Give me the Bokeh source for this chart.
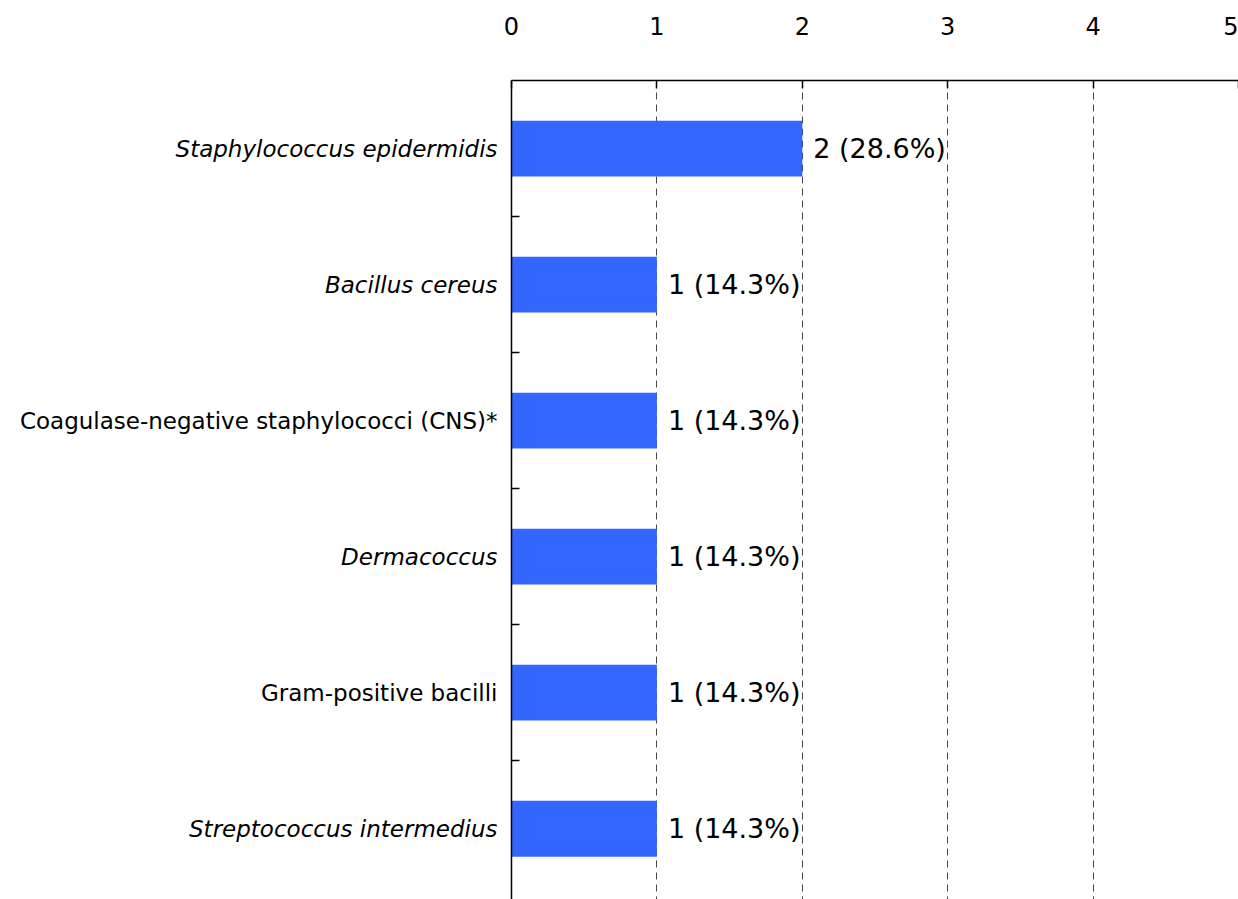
from bokeh.plotting import figure
from bokeh.layouts import row
from bokeh.models import (ColumnDataSource, LabelSet, Range1d, FixedTicker,
                          CustomJSTickFormatter)
from bokeh.core.properties import value
from bokeh.embed import file_html
from bokeh.resources import INLINE

categories = [
    "Staphylococcus epidermidis",
    "Bacillus cereus",
    "Coagulase-negative staphylococci (CNS)*",
    "Dermacoccus",
    "Gram-positive bacilli",
    "Streptococcus intermedius",
]
counts = [2, 1, 1, 1, 1, 1]
italic = [True, True, False, True, False, True]
x_ticks = [0, 1, 2, 3, 4, 5]

total = sum(counts)
pos = list(range(len(categories)))
value_text = [f"{c} ({c / total * 100:.1f}%)" for c in counts]
styles = ["italic" if it else "normal" for it in italic]

src = ColumnDataSource(dict(
    y=pos, cat=categories, count=counts, zero=[0] * len(counts),
    one=[1] * len(counts), vtext=value_text, style=styles,
))

FONT = "DejaVu Sans"
LEFT_W = 497
PAD = 14
TOP = 80
H = 899

y_range = Range1d(5.52, -0.5)

# left panel holding the category labels
lp = figure(width=LEFT_W, height=H, output_backend="svg", toolbar_location=None,
            x_range=Range1d(0, 1), y_range=y_range,
            min_border_left=0, min_border_right=0, min_border_top=TOP,
            min_border_bottom=0)
lp.outline_line_color = None
lp.axis.visible = False
lp.grid.grid_line_color = None
lp.text(x="one", y="y", text="cat", source=src,
        text_align="right", text_baseline="middle",
        text_font=value(FONT), text_font_size="23px",
        text_font_style="style", text_color="black")

# main bar chart
p = figure(width=1238 - LEFT_W, height=H, output_backend="svg", toolbar_location=None,
           x_axis_location="above",
           x_range=Range1d(0, 5), y_range=y_range,
           min_border_left=PAD, min_border_right=0, min_border_top=TOP,
           min_border_bottom=0)
p.outline_line_color = None
p.background_fill_color = "white"
p.border_fill_color = "white"

p.hbar(y="y", left="zero", right="count", height=0.41, source=src,
       fill_color="#3366FF", line_color=None)

xa = p.xaxis[0]
xa.ticker = FixedTicker(ticks=x_ticks)
xa.minor_tick_line_color = None
xa.major_tick_in = 8
xa.major_tick_out = 0
xa.axis_line_width = 1.5
xa.axis_line_color = "black"
xa.major_tick_line_color = "black"
xa.major_tick_line_width = 1.5
xa.major_label_standoff = 46
xa.major_label_text_font = FONT
xa.major_label_text_font_size = "24px"
xa.major_label_text_color = "black"

ya = p.yaxis[0]
ya.ticker = FixedTicker(ticks=[i + 0.5 for i in pos[:-1]])
ya.formatter = CustomJSTickFormatter(code="return ''")
ya.minor_tick_line_color = None
ya.major_tick_in = 8
ya.major_tick_out = 0
ya.major_label_standoff = 0
ya.axis_line_width = 1.5
ya.axis_line_color = "black"
ya.major_tick_line_color = "black"
ya.major_tick_line_width = 1.5

p.xgrid.grid_line_color = "#444444"
p.xgrid.grid_line_dash = "7 5"
p.xgrid.grid_line_width = 1
p.ygrid.grid_line_color = None

val_labels = LabelSet(x="count", y="y", text="vtext", source=src, x_offset=11,
                      text_align="left", text_baseline="middle",
                      text_font=value(FONT), text_font_size="27px",
                      text_color="black")
p.add_layout(val_labels)

layout = row(lp, p, spacing=0)
open("out.html", "w").write(file_html(layout, INLINE))
